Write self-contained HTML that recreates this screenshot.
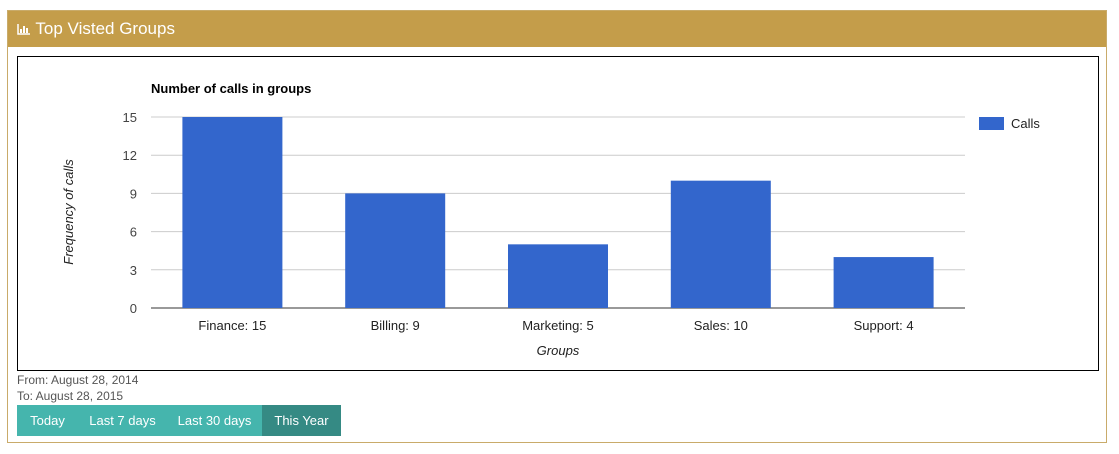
<!DOCTYPE html>
<html><head><meta charset="utf-8"><style>
body{margin:0;width:1119px;height:454px;background:#fff;font-family:"Liberation Sans",sans-serif;position:relative;overflow:hidden}
.panel{position:absolute;left:7px;top:10px;width:1100px;height:433px;border:1px solid #c9ab6a;box-sizing:border-box}
.hdr{position:absolute;left:0;top:0;width:100%;height:36px;background:#c49d4a;color:#fff;font-size:17px;line-height:36px;padding-left:9px;box-sizing:border-box}
.box{position:absolute;left:17px;top:56px;width:1082px;height:315px;border:1.5px solid #000;box-sizing:border-box}
.date{position:absolute;left:17px;font-size:12px;color:#555}
.btns{position:absolute;left:17px;top:405px;height:31px;display:flex}
.btns div{background:#45b5ad;color:#fff;font-size:13px;line-height:31px;text-align:center}
</style></head><body>
<div class="panel">
<div class="hdr"><svg width="14" height="12" style="vertical-align:-1px"><path d="M1 1V11H13" stroke="#fff" fill="none" stroke-width="1.5"/><rect x="3" y="6" width="2" height="4" fill="#fff"/><rect x="6" y="3" width="2" height="7" fill="#fff"/><rect x="9" y="5" width="2" height="5" fill="#fff"/></svg> Top Visted Groups</div>
</div>
<div class="box"></div>
<svg id="chart" width="1119" height="454" style="position:absolute;left:0;top:0"></svg>
<div class="date" style="top:373px">From: August 28, 2014</div>
<div class="date" style="top:389px">To: August 28, 2015</div>
<div class="btns">
<div style="width:61px">Today</div>
<div style="width:89px">Last 7 days</div>
<div style="width:95px">Last 30 days</div>
<div style="width:79px;background:#358a84">This Year</div>
</div>
<script>
const categories=["Finance","Billing","Marketing","Sales","Support"];
const values=[15,9,5,10,4];
const ticks=[0,3,6,9,12,15];
const NS="http://www.w3.org/2000/svg";
const svg=document.getElementById('chart');
const x0=151,x1=965,y0=308,y1=117,maxV=15;
const y=v=>y0-(v/maxV)*(y0-y1);
const step=(x1-x0)/categories.length;
const xc=i=>x0+step*(i+0.5);
function mk(t,a,txt){const e=document.createElementNS(NS,t);for(const k in a)e.setAttribute(k,a[k]);if(txt!==undefined)e.textContent=txt;svg.appendChild(e);return e;}
let e=mk('text',{x:151,y:93,'font-size':13,'font-weight':'bold',fill:'#000'},'Number of calls in groups');


ticks.forEach(t=>{
 const l=mk('line',{x1:x0,x2:x1,y1:y(t),y2:y(t),stroke:t===0?'#333':'#ccc','stroke-width':1});
 
 
 const tx=mk('text',{x:137,y:y(t)+5,'text-anchor':'end','font-size':13,fill:'#444'},t);
 
 
});
categories.forEach((c,i)=>{
 const r=mk('rect',{x:xc(i)-50,y:y(values[i]),width:100,height:y0-y(values[i]),fill:'#3366cc'});
 
 
 const t=mk('text',{x:xc(i),y:330,'text-anchor':'middle','font-size':13,fill:'#222'},c+': '+values[i]);
 
 
});
e=mk('text',{x:558,y:355,'text-anchor':'middle','font-size':13,'font-style':'italic',fill:'#222'},'Groups');


e=mk('text',{x:0,y:0,'text-anchor':'middle','font-size':13,'font-style':'italic',fill:'#222',transform:'translate(73,212) rotate(-90)'},'Frequency of calls');


e=mk('rect',{x:979,y:117,width:25,height:13,fill:'#3366cc'});


e=mk('text',{x:1011,y:128,'font-size':13,fill:'#222'},'Calls');


</script>
</body></html>
